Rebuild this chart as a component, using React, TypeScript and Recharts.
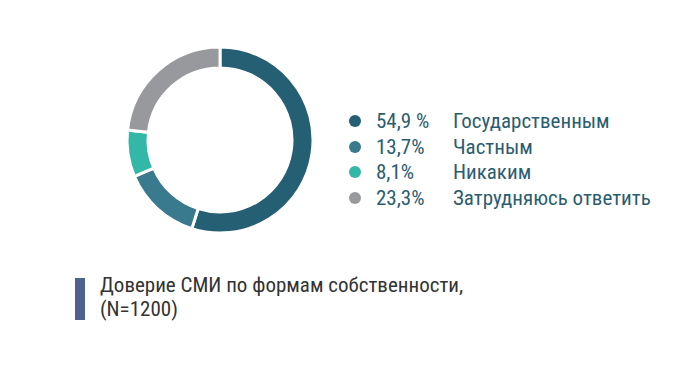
import { PieChart, Pie, Cell, Legend } from "recharts";

const categories = ["Государственным", "Частным", "Никаким", "Затрудняюсь ответить"];
const values = [54.9, 13.7, 8.1, 23.3];
const valueLabels = ["54,9 %", "13,7%", "8,1%", "23,3%"];
const colors = ["#245f74", "#3a7a8e", "#33b7a6", "#98999d"];

const data = categories.map((name, i) => ({ name, value: values[i], label: valueLabels[i] }));

const FONT = "'Liberation Sans Narrow', 'Roboto Condensed', Roboto, sans-serif";

function LegendContent() {
  return (
    <div style={{ fontFamily: FONT, fontSize: 21, color: "#2b5d70" }}>
      {data.map((d, i) => (
        <div key={d.name} style={{ display: "flex", alignItems: "center", height: 25.8 }}>
          <span
            style={{
              width: 12,
              height: 12,
              borderRadius: 6,
              background: colors[i],
              marginLeft: 0,
              marginRight: 15,
            }}
          />
          <span style={{ width: 77 }}>{d.label}</span>
          <span>{d.name}</span>
        </div>
      ))}
    </div>
  );
}

export default function App() {
  return (
    <div style={{ position: "absolute", left: 0, top: 0, width: 698, height: 369, background: "#fff" }}>
      <PieChart width={698} height={369} margin={{ top: 0, right: 0, bottom: 0, left: 0 }}>
        <Pie
          data={data}
          dataKey="value"
          cx={220}
          cy={140}
          innerRadius={72}
          outerRadius={93}
          startAngle={90}
          endAngle={-270}
          stroke="#fff"
          strokeWidth={3}
          isAnimationActive={false}
        >
          {data.map((d, i) => (
            <Cell key={d.name} fill={colors[i]} />
          ))}
        </Pie>
        <Legend
          layout="vertical"
          content={<LegendContent />}
          wrapperStyle={{ left: 349, top: 108, width: 330 }}
        />
      </PieChart>
      <div style={{ position: "absolute", left: 75, top: 278, width: 10, height: 42, background: "#4d6290" }} />
      <div
        style={{
          position: "absolute",
          left: 100,
          top: 273,
          fontFamily: FONT,
          fontSize: 21,
          lineHeight: "24px",
          color: "#333",
        }}
      >
        Доверие СМИ по формам собственности,
        <br />
        (N=1200)
      </div>
    </div>
  );
}
